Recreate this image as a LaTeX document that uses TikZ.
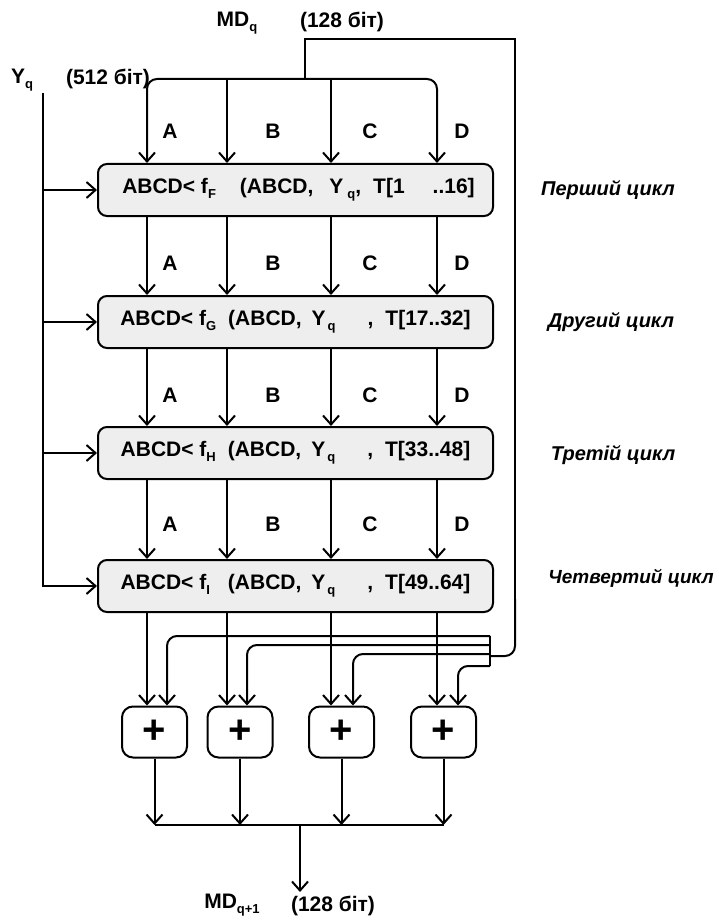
\documentclass[tikz,border=0pt]{standalone}
\usepackage{fontspec}
\setmainfont{Liberation Sans}
\usetikzlibrary{arrows.meta}
\newcommand\lowsub[1]{\raisebox{-0.45ex}{\fontsize{13}{13}\selectfont #1}}
\begin{document}
\begin{tikzpicture}[x=1pt,y=-1pt,
  ln/.style={line width=2pt},
  arr/.style={line width=2pt,-{Straight Barb[length=9pt,width=16pt]}},
  roundbox/.style={draw,line width=2pt,rounded corners=9pt,fill=gray!13,minimum width=395pt,minimum height=52pt,inner sep=0pt,font=\bfseries\fontsize{21}{21}\selectfont},
  plusbox/.style={draw,line width=2pt,rounded corners=11pt,fill=white,minimum width=65pt,minimum height=51pt,inner sep=0pt,font=\bfseries\fontsize{40}{40}\selectfont},
  lbl/.style={font=\bfseries\fontsize{21}{21}\selectfont,inner sep=0pt},
  cyc/.style={font=\bfseries\itshape\fontsize{20}{20}\selectfont,inner sep=0pt}]
\useasboundingbox (0,0) rectangle (718,920);

% main boxes
\node[roundbox] (b1) at (295.5,190) {\hspace{6pt}ABCD< f\lowsub{F}\hspace{24pt}(ABCD,\hspace{16pt}Y\hspace{4pt}\lowsub{q},\hspace{12pt}T[1\hspace{28pt}..16]};
\node[roundbox] (b2) at (295.5,322) {ABCD< f\lowsub{G}\hspace{12pt}(ABCD,\hspace{10pt}Y\hspace{2pt}\lowsub{q}\hspace{32pt},\hspace{12pt}T[17..32]};
\node[roundbox] (b3) at (295.5,453) {ABCD< f\lowsub{H}\hspace{12pt}(ABCD,\hspace{10pt}Y\hspace{2pt}\lowsub{q}\hspace{32pt},\hspace{12pt}T[33..48]};
\node[roundbox] (b4) at (295.5,586) {ABCD< f\lowsub{I}\hspace{18pt}(ABCD,\hspace{10pt}Y\hspace{2pt}\lowsub{q}\hspace{32pt},\hspace{12pt}T[49..64]};

% adders
\node[plusbox] (p1) at (154.5,732) {+};
\node[plusbox] (p2) at (240,732) {+};
\node[plusbox] (p3) at (341.5,732) {+};
\node[plusbox] (p4) at (443.5,732) {+};

% columns
\coordinate (cA) at (147,0);
\coordinate (cB) at (227,0);
\coordinate (cC) at (331,0);
\coordinate (cD) at (437,0);
\coordinate (fA) at (167,0);
\coordinate (fB) at (247,0);
\coordinate (fC) at (353,0);
\coordinate (fD) at (458,0);

% top input bus
\coordinate (md) at (305,79);
\coordinate (mdtop) at (305,39);
\coordinate (mdr) at (515,39);
\coordinate (mdlow) at (515,600);
\coordinate (busj) at (490,656);
\draw[arr, rounded corners=10pt] (md) -| (cA |- b1.north);
\draw[arr, rounded corners=10pt] (md) -| (cD |- b1.north);
\draw[arr] (cB |- md) -- (cB |- b1.north);
\draw[arr] (cC |- md) -- (cC |- b1.north);

% between rounds
\foreach \c in {cA,cB,cC,cD}{
  \draw[arr] (\c |- b1.south) -- (\c |- b2.north);
  \draw[arr] (\c |- b2.south) -- (\c |- b3.north);
  \draw[arr] (\c |- b3.south) -- (\c |- b4.north);
}
\draw[arr] (cA |- b4.south) -- (cA |- p1.north);
\draw[arr] (cB |- b4.south) -- (cB |- p2.north);
\draw[arr] (cC |- b4.south) -- (cC |- p3.north);
\draw[arr] (cD |- b4.south) -- (cD |- p4.north);

% A B C D labels
\foreach \y [count=\i] in {131,263,395,524}{
  \node[lbl] (la\i) at (170,\y) {A};
  \node[lbl] (lb\i) at (273,\y) {B};
  \node[lbl] (lc\i) at (370,\y) {C};
  \node[lbl] (ld\i) at (462,\y) {D};
}

% MD feedback line
\draw[ln] (md) -- (mdtop) -- (mdr) -- (mdlow);
\draw[ln, rounded corners=10pt] ([yshift=1pt]mdlow) |- (busj);
\coordinate (bt) at (490,636);
\coordinate (bm1) at (490,645);
\coordinate (bm2) at (490,654);
\coordinate (bb) at (490,666);
\draw[ln] (bt) -- (bb);
\draw[arr, rounded corners=10pt] (bt) -| (fA |- p1.north);
\draw[arr, rounded corners=10pt] (bm1) -| (fB |- p2.north);
\draw[arr, rounded corners=10pt] (bm2) -| (fC |- p3.north);
\draw[arr, rounded corners=10pt] (bb) -| (fD |- p4.north);

% Yq line
\coordinate (ytop) at (43,93);
\draw[arr] (ytop) |- (b4.west);
\draw[arr] (ytop |- b1.west) -- (b1.west);
\draw[arr] (ytop |- b2.west) -- (b2.west);
\draw[arr] (ytop |- b3.west) -- (b3.west);

% outputs
\coordinate (ob) at (300,825);
\coordinate (oend) at (300,892);
\draw[arr] (p1.south) -- (p1.south |- ob);
\draw[arr] (p2.south) -- (p2.south |- ob);
\draw[arr] (p3.south) -- (p3.south |- ob);
\draw[arr] (p4.south) -- (p4.south |- ob);
\draw[ln] (p1.south |- ob) -- (p4.south |- ob);
\draw[arr] (ob) -- (oend);

% texts
\node[lbl] (mdq) at (237,23) {MD\lowsub{q}};
\node[lbl] (bits1) at (342,22) {(128 біт)};
\node[lbl] (yq) at (22,80) {Y\lowsub{q}};
\node[lbl] (bits2) at (108,79) {(512 біт)};
\node[lbl] (mdq1) at (232,905) {MD\lowsub{q+1}};
\node[lbl] (bits3) at (333,906) {(128 біт)};

\node[cyc] (c1) at (608,190) {Перший цикл};
\node[cyc] (c2) at (611,322) {Другий цикл};
\node[cyc] (c3) at (613,455) {Третій цикл};
\node[cyc, font=\bfseries\itshape\fontsize{19}{19}\selectfont] (c4) at (631,578) {Четвертий цикл};
\end{tikzpicture}
\end{document}
